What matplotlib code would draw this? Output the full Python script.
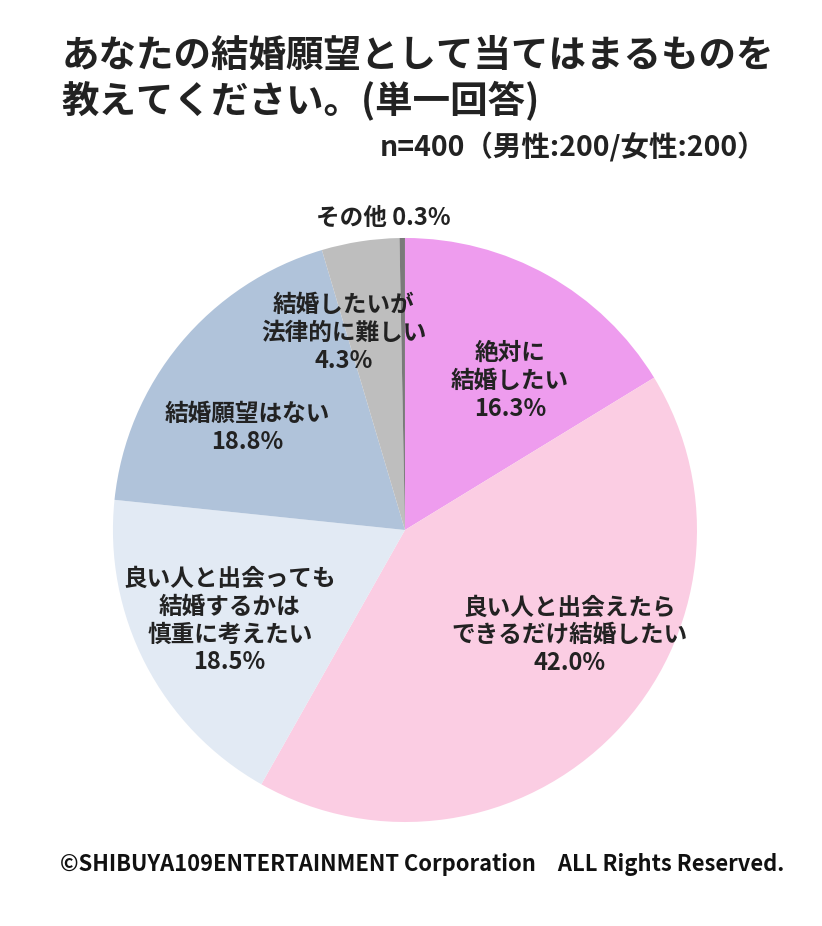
import matplotlib.pyplot as plt

plt.rcParams['font.family'] = ['Noto Sans CJK JP', 'DejaVu Sans']

# データ
labels = ["絶対に\n結婚したい", "良い人と出会えたら\nできるだけ結婚したい",
          "良い人と出会っても\n結婚するかは\n慎重に考えたい", "結婚願望はない",
          "結婚したいが\n法律的に難しい", "その他"]
values = [16.3, 42.0, 18.5, 18.8, 4.3, 0.3]
colors = ["#EE9CEE", "#FBCDE3", "#E2EAF4", "#B0C3DA", "#BEBEBE", "#7A7A7A"]

# ラベル位置 (円の半径=1)
label_pos = [(0.36, 0.51), (0.565, -0.36), (-0.60, -0.31), (-0.54, 0.35),
             (-0.21, 0.675), (-0.075, 1.07)]

fig = plt.figure(figsize=(8.22, 9.26), dpi=100)
fig.patch.set_facecolor("white")

ax = fig.add_axes([0.4927 - 0.3553, 0.4276 - 0.3153, 0.7105, 0.6307])
ax.pie(values, colors=colors, startangle=90, counterclock=False,
       wedgeprops=dict(linewidth=0))
ax.set_xlim(-1, 1)
ax.set_ylim(-1, 1)
ax.set_aspect("equal")
ax.axis("off")

for i in range(len(values)):
    x, y = label_pos[i]
    if i == len(values) - 1:
        txt = labels[i] + " " + f"{values[i]:.1f}%"
    else:
        txt = labels[i] + "\n" + f"{values[i]:.1f}%"
    ax.text(x, y, txt, ha="center", va="center", fontsize=17, fontweight="bold",
            color="#222222", linespacing=1.2, clip_on=False)

# タイトル
fig.text(62 / 822, 1 - 55 / 926, "あなたの結婚願望として当てはまるものを",
         ha="left", va="center", fontsize=27, fontweight="bold", color="#222222")
fig.text(62 / 822, 1 - 100 / 926, "教えてください。(単一回答)",
         ha="left", va="center", fontsize=27, fontweight="bold", color="#222222")
fig.text(766 / 822, 1 - 147 / 926, "n=400（男性:200/女性:200）",
         ha="right", va="center", fontsize=20.5, fontweight="bold", color="#222222")

# フッター
fig.text(422 / 822, 1 - 865 / 926,
         "©SHIBUYA109ENTERTAINMENT Corporation　ALL Rights Reserved.",
         ha="center", va="center", fontsize=15.8, fontweight="bold", color="#111111")

fig.savefig("out.png", dpi=100)
